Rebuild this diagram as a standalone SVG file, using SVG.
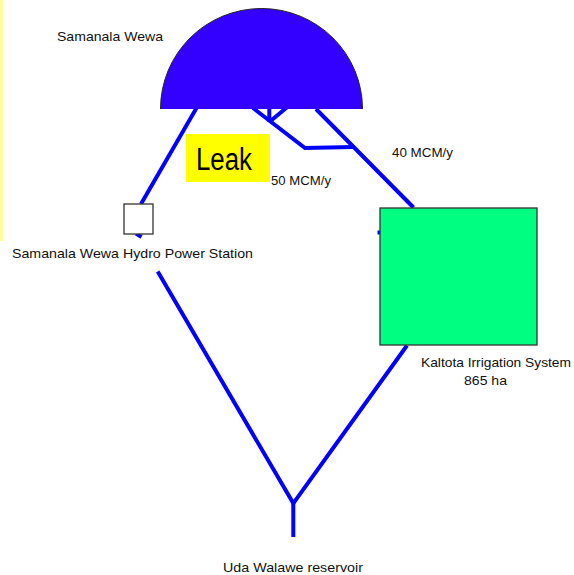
<svg xmlns="http://www.w3.org/2000/svg" width="574" height="575" viewBox="0 0 574 575">
<style>
.lbl{font-family:"Liberation Sans",Arial,sans-serif;font-size:13px;fill:#111;}
.pipe{stroke:#0000ff;stroke-width:4;fill:none;stroke-linecap:butt;stroke-linejoin:miter;}
.box{stroke:#333;stroke-width:1.3;}
</style>
<rect x="0" y="0" width="574" height="575" fill="#ffffff"/>
<rect x="0" y="0" width="3" height="241" fill="#ffff99"/>
<g id="connectors">
<path class="pipe" d="M196.5,108 L141,204"/>
<path class="pipe" d="M136,233.5 L141.5,237"/>
<path class="pipe" d="M253,108 L305,148 L353,147"/>
<path class="pipe" d="M269.3,108 L269.3,122 M291,104 L269.3,122"/>
<path class="pipe" d="M316,109 L413.5,207.5"/>
<path class="pipe" d="M377.5,232.5 L380,232.5" stroke-width="2"/>
<path class="pipe" d="M157.7,271.5 L293.3,503.3 L407,345.5"/>
<path class="pipe" d="M293.3,503 L293.3,537"/>
</g>
<g id="samanala-wewa">
<path d="M160.5,109 A101,100.5 0 0 1 362.5,109 Z" fill="#3300ff"/>
<path d="M160.5,109 A101,100.5 0 0 1 362.5,109" fill="none" stroke="#222" stroke-width="1"/>
<text class="lbl" x="57" y="41" textLength="106" lengthAdjust="spacingAndGlyphs">Samanala Wewa</text>
</g>
<g id="power-station">
<rect class="box" x="124" y="204" width="29" height="30" fill="#ffffff"/>
<text class="lbl" x="12" y="258" textLength="241" lengthAdjust="spacingAndGlyphs">Samanala Wewa Hydro Power Station</text>
</g>
<g id="leak">
<rect x="186" y="134" width="84" height="48" fill="#ffff00"/>
<text x="196" y="170" font-family="'Liberation Sans Narrow','Liberation Sans',Arial,sans-serif" font-size="31" fill="#000" textLength="56" lengthAdjust="spacingAndGlyphs">Leak</text>
</g>
<g id="flow-labels">
<text class="lbl" x="271" y="185" textLength="60" lengthAdjust="spacingAndGlyphs">50 MCM/y</text>
<text class="lbl" x="392" y="157" textLength="61" lengthAdjust="spacingAndGlyphs">40 MCM/y</text>
</g>
<g id="kaltota">
<rect class="box" x="380" y="208" width="157" height="137" fill="#00ff80"/>
<text class="lbl" x="421" y="366.5" textLength="150" lengthAdjust="spacingAndGlyphs">Kaltota Irrigation System</text>
<text class="lbl" x="464" y="385" textLength="43" lengthAdjust="spacingAndGlyphs">865 ha</text>
</g>
<g id="uda-walawe">
<text class="lbl" x="223" y="571.5" textLength="140" lengthAdjust="spacingAndGlyphs">Uda Walawe reservoir</text>
</g>
</svg>
